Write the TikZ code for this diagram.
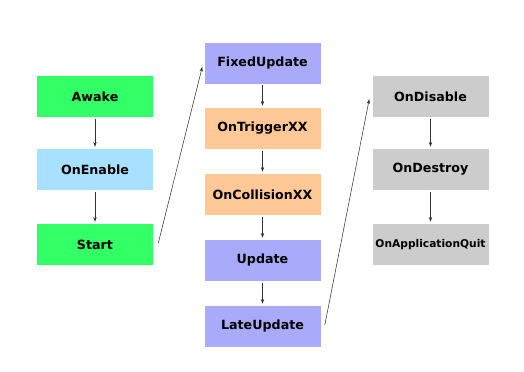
\documentclass[tikz,border=0pt]{standalone}
\usepackage{fontspec}
\setmainfont{DejaVu Sans}
\definecolor{awakegreen}{RGB}{51,255,102}
\definecolor{enableblue}{RGB}{168,224,255}
\definecolor{physorange}{RGB}{255,200,150}
\definecolor{updpurple}{RGB}{170,170,250}
\definecolor{endgray}{RGB}{204,204,204}
\usetikzlibrary{arrows.meta}

\begin{document}
\begin{tikzpicture}[x=0.75pt, y=-0.75pt,
    box/.style={minimum width=87pt, minimum height=30.75pt, inner sep=0pt,
                font=\bfseries\fontsize{9.5}{11}\selectfont},
    flow/.style={-{Stealth[length=3.5pt, width=2.5pt]}, line width=0.4pt, black!80}]
    \useasboundingbox (0,0) rectangle (524,371);

    %% Initialisation (left column)
    \node[box, fill=awakegreen]  (awake)  at (95,96.5)  {Awake};
    \node[box, fill=enableblue]  (enable) at (95,169.5) {OnEnable};
    \node[box, fill=awakegreen]  (start)  at (95,244.5) {Start};

    %% Frame loop (middle column)
    \node[box, fill=updpurple]   (fixed)     at (262.5,63)    {FixedUpdate};
    \node[box, fill=physorange]  (trigger)   at (262.5,128.5) {OnTriggerXX};
    \node[box, fill=physorange]  (collision) at (262.5,194.5) {OnCollisionXX};
    \node[box, fill=updpurple]   (update)    at (262.5,260.5) {Update};
    \node[box, fill=updpurple]   (late)      at (262.5,326.5) {LateUpdate};

    %% Teardown (right column)
    \node[box, fill=endgray] (disable) at (430.5,96.5)  {OnDisable};
    \node[box, fill=endgray] (destroy) at (430.5,169.5) {OnDestroy};
    \node[box, fill=endgray, font=\bfseries\fontsize{8}{9}\selectfont]
        (quit) at (430.5,244.5) {OnApplicationQuit};

    %% Vertical arrows
    \draw[flow, shorten <=1pt, shorten >=1.5pt] (awake) -- (enable);
    \draw[flow, shorten <=1pt, shorten >=1.5pt] (enable) -- (start);
    \draw[flow, shorten <=1pt, shorten >=1.5pt] (fixed) -- (trigger);
    \draw[flow, shorten <=1pt, shorten >=1.5pt] (trigger) -- (collision);
    \draw[flow, shorten <=1pt, shorten >=1.5pt] (collision) -- (update);
    \draw[flow, shorten <=1pt, shorten >=1.5pt] (update) -- (late);
    \draw[flow, shorten <=1pt, shorten >=1.5pt] (disable) -- (destroy);
    \draw[flow, shorten <=1pt, shorten >=1.5pt] (destroy) -- (quit);

    %% Jumps between columns
    \draw[flow] ([xshift=3.75pt, yshift=1pt]start.east) -- ([xshift=-1.5pt, yshift=-3pt]fixed.west);
    \draw[flow] ([xshift=3pt, yshift=1pt]late.east) -- ([xshift=-2.25pt, yshift=-2pt]disable.west);
\end{tikzpicture}
\end{document}
